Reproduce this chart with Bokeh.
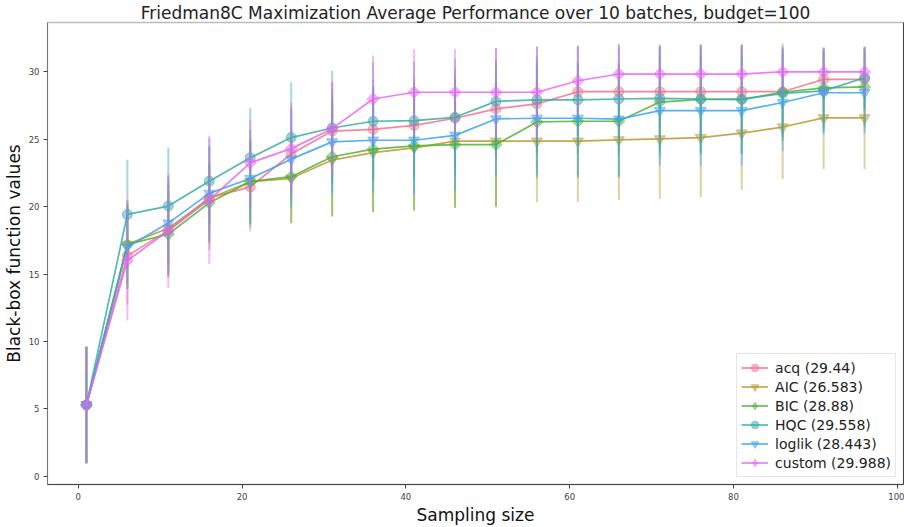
import numpy as np
from bokeh.plotting import figure
from bokeh.models import Range1d, LinearAxis, FixedTicker, Legend, LegendItem
from bokeh.embed import file_html
from bokeh.resources import INLINE

# ---------------- data ----------------
sampling_size = [1, 6, 11, 16, 21, 26, 31, 36, 41, 46, 51, 56, 61, 66, 71, 76, 81, 86, 91, 96]

series_names = ["acq", "AIC", "BIC", "HQC", "loglik", "custom"]
final_scores = ["29.44", "26.583", "28.88", "29.558", "28.443", "29.988"]

acq_mean = [5.3, 16.35, 18.24, 20.65, 21.46, 23.9, 25.6, 25.72, 26.02, 26.55, 27.25, 27.62,
            28.52, 28.52, 28.52, 28.52, 28.52, 28.52, 29.44, 29.44]
acq_std = [4.32, 3.6, 3.37, 2.45, 3.3, 3.5, 3.6, 3.7, 3.7, 3.7, 3.6, 3.6,
           3.3, 3.3, 3.3, 3.3, 3.3, 3.3, 2.3, 2.3]

aic_mean = [5.3, 17.2, 18.4, 20.6, 21.85, 22.1, 23.45, 24.0, 24.35, 24.85, 24.85, 24.85,
            24.85, 24.95, 25.02, 25.12, 25.45, 25.9, 26.583, 26.583]
aic_std = [4.32, 3.3, 3.5, 3.8, 3.1, 3.3, 4.2, 4.4, 4.6, 4.9, 4.85, 4.5,
           4.5, 4.45, 4.45, 4.4, 4.2, 3.85, 3.8, 3.8]

bic_mean = [5.3, 17.2, 17.95, 20.28, 21.85, 22.22, 23.7, 24.26, 24.5, 24.6, 24.6, 26.28,
            26.33, 26.33, 27.75, 27.95, 27.95, 28.48, 28.8, 28.88]
bic_std = [4.32, 3.0, 3.2, 3.0, 3.1, 3.45, 4.4, 4.65, 4.8, 4.7, 4.65, 4.2,
           4.2, 4.2, 4.1, 4.05, 4.05, 3.6, 3.0, 3.0]

hqc_mean = [5.3, 19.42, 20.04, 21.88, 23.62, 25.12, 25.83, 26.33, 26.37, 26.62, 27.8, 27.92,
            27.92, 27.98, 28.03, 27.98, 27.95, 28.4, 28.58, 29.558]
hqc_std = [4.32, 4.06, 4.35, 3.2, 3.7, 4.1, 4.25, 4.4, 4.4, 4.3, 3.95, 3.95,
           4.0, 4.05, 3.95, 4.0, 4.05, 3.3, 3.05, 2.3]

loglik_mean = [5.3, 17.0, 18.78, 20.98, 22.08, 23.52, 24.8, 24.92, 24.92, 25.28, 26.5, 26.55,
               26.55, 26.48, 27.12, 27.12, 27.12, 27.72, 28.443, 28.443]
loglik_std = [4.32, 3.1, 3.5, 3.5, 3.6, 3.6, 3.9, 3.9, 4.0, 4.1, 4.2, 4.2,
              4.2, 4.2, 4.1, 4.1, 4.1, 3.6, 3.1, 3.0]

custom_mean = [5.3, 16.0, 18.2, 20.5, 23.25, 24.3, 25.78, 27.98, 28.48, 28.48, 28.48, 28.48,
               29.33, 29.83, 29.83, 29.83, 29.83, 29.988, 29.988, 29.988]
custom_std = [4.32, 4.45, 4.23, 4.76, 3.2, 3.4, 3.5, 3.2, 3.2, 3.2, 3.3, 3.4,
              2.6, 2.2, 2.2, 2.2, 2.2, 1.8, 1.8, 1.8]

x_ticks = [0, 20, 40, 60, 80, 100]
y_ticks = [0, 5, 10, 15, 20, 25, 30]

means = [acq_mean, aic_mean, bic_mean, hqc_mean, loglik_mean, custom_mean]
stds = [acq_std, aic_std, bic_std, hqc_std, loglik_std, custom_std]

# ---------------- style ----------------
colors = ["#f77189", "#bb9832", "#50b131", "#36ada4", "#3ba3ec", "#e866f4"]
markers = ["circle", "inverted_triangle", "square", "circle", "inverted_triangle", "square"]
legend_markers = ["circle", "inverted_triangle", "diamond", "circle", "inverted_triangle", "diamond"]
angles = [0, 0, np.pi / 4, 0, 0, np.pi / 4]
sizes = [10, 11, 8.5, 10, 11, 8.5]
FONT = "DejaVu Sans"

p = figure(width=904, height=527, output_backend="svg", toolbar_location=None,
           x_range=Range1d(-3.75, 100.75), y_range=Range1d(-0.6, 33.65),
           min_border_left=47, min_border_right=1, min_border_top=21, min_border_bottom=42,
           background_fill_color="white", border_fill_color="white")

p.title.text = "Friedman8C Maximization Average Performance over 10 batches, budget=100"
p.title.text_font = FONT
p.title.text_font_size = "17px"
p.title.text_font_style = "normal"
p.title.text_color = "#222222"
p.title.align = "center"
p.title.standoff = 0
p.title.offset = 0

p.xgrid.visible = False
p.ygrid.visible = False
p.outline_line_color = "#bbbbbb"
p.outline_line_width = 1.3

for ax, ticks, col in ((p.xaxis[0], x_ticks, "#444444"), (p.yaxis[0], y_ticks, "#777777")):
    ax.ticker = FixedTicker(ticks=ticks)
    ax.minor_tick_line_color = None
    ax.major_tick_out = 4
    ax.major_tick_in = 0
    ax.major_tick_line_color = "#444444"
    ax.axis_line_color = col
    ax.major_label_text_font = FONT
    ax.major_label_text_font_size = "8.5px"
    ax.major_label_text_color = "#444444"
    ax.major_label_standoff = 4
    ax.axis_label_text_font = FONT
    ax.axis_label_text_font_size = "17px"
    ax.axis_label_text_font_style = "normal"
    ax.axis_label_text_color = "#111111"
    ax.axis_label_standoff = 2

p.xaxis.axis_label = "Sampling size"
p.yaxis.axis_label = "Black-box function values"

right_axis = LinearAxis(ticker=FixedTicker(ticks=[]), major_label_text_font_size="0px",
                        major_tick_out=0, major_tick_in=0, minor_tick_out=0, minor_tick_in=0,
                        major_label_standoff=0, axis_line_color="#444444")
p.add_layout(right_axis, "right")

items = []
for name, score, m, s, c, mk, ang, sz, lmk in zip(series_names, final_scores, means, stds,
                                                   colors, markers, angles, sizes,
                                                   legend_markers):
    m_arr = np.array(m)
    s_arr = np.array(s)
    p.segment(x0=sampling_size, y0=m_arr - s_arr, x1=sampling_size, y1=m_arr + s_arr,
              line_color=c, line_alpha=0.45, line_width=2)
    ln = p.line(sampling_size, m, line_color=c, line_width=1.7, line_alpha=0.85)
    sc = p.scatter(sampling_size, m, marker=mk, angle=ang, size=sz,
                   fill_color=c, fill_alpha=0.5, line_color=c, line_alpha=0.5)
    if lmk != mk:
        # hidden renderer used only as the legend swatch (diamond shape)
        key = p.scatter(sampling_size, m, marker=lmk, size=sz,
                        fill_color=c, fill_alpha=0.5, line_color=c, line_alpha=0.5,
                        visible=False)
    else:
        key = sc
    items.append(LegendItem(label=f"{name} ({score})", renderers=[ln, key]))

legend = Legend(items=items, location="bottom_right",
                label_text_font=FONT, label_text_font_size="14px", label_text_color="#222222",
                glyph_width=27, glyph_height=19, label_height=19, spacing=0,
                padding=4, margin=7, label_standoff=7,
                inactive_fill_alpha=0.0,
                border_line_color="#cccccc", border_line_width=1,
                background_fill_color="white", background_fill_alpha=0.8)
p.add_layout(legend)

open("out.html", "w").write(file_html(p, INLINE))
